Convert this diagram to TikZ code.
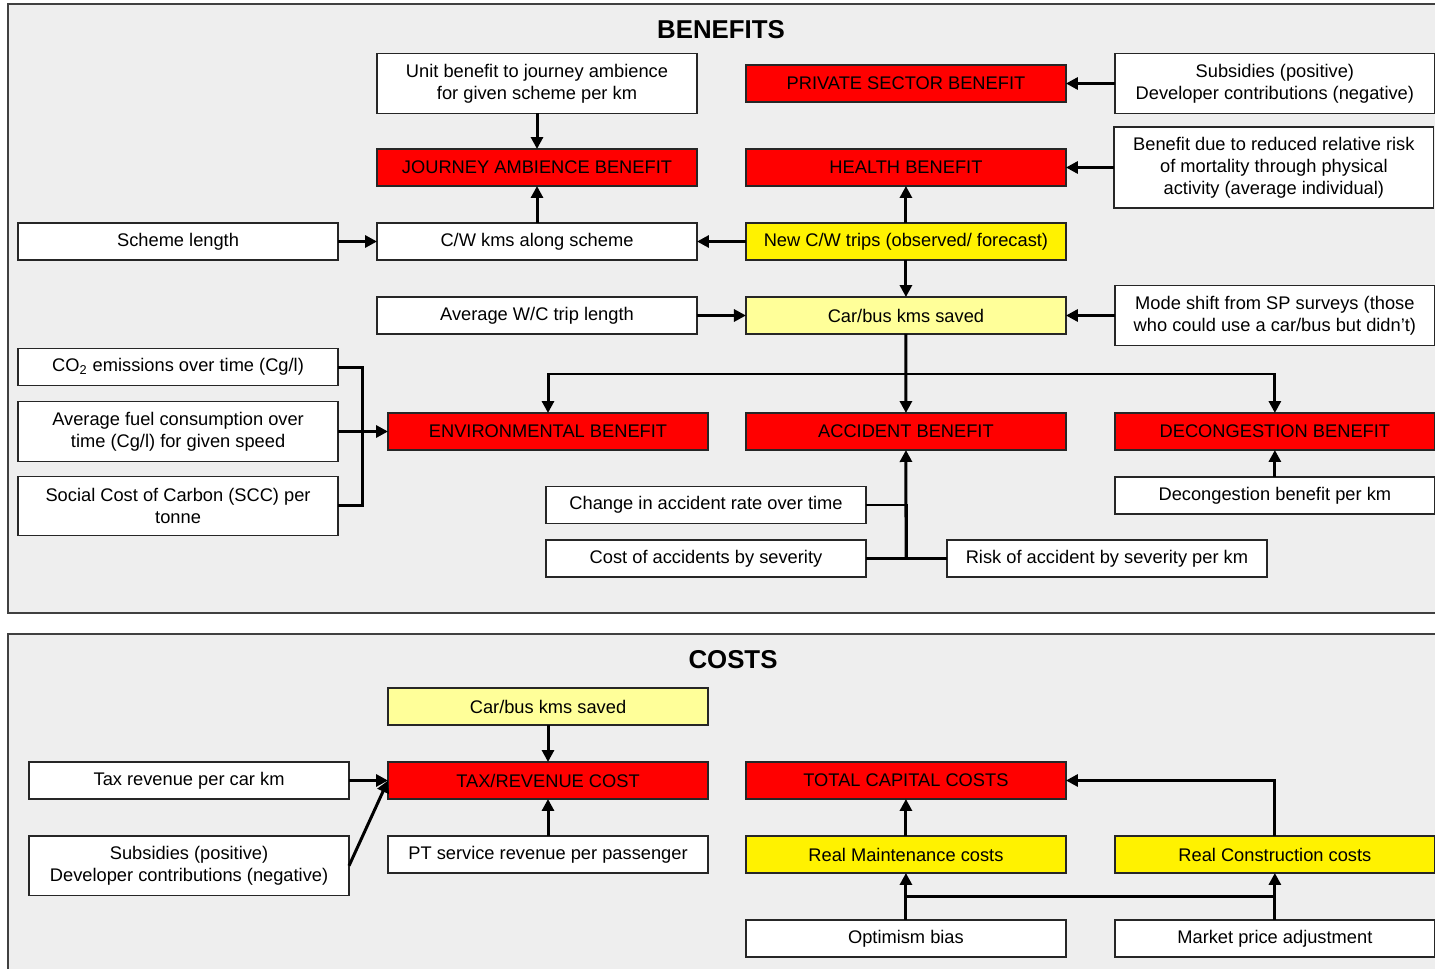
\documentclass[tikz,border=0pt]{standalone}
\usepackage{fontspec}
\setmainfont{Liberation Sans}
\usetikzlibrary{arrows.meta, positioning}
\definecolor{panelgray}{RGB}{238,238,238}
\definecolor{framegray}{RGB}{64,64,64}
\definecolor{paleyellow}{RGB}{255,255,153}
\tikzset{
  box/.style={draw=black!85, line width=0.7pt, fill=white, align=center,
    minimum width=6.4cm, minimum height=0.74cm, inner sep=1pt, outer sep=0pt,
    font=\fontsize{10.4}{12.5}\selectfont}, % every input box
  twoline/.style={minimum height=1.19cm}, % boxes with two lines of text
  threeline/.style={minimum height=1.62cm},
  redbox/.style={box, fill=red}, % the benefit / cost results
  yellowbox/.style={box, fill=yellow},
  paleybox/.style={box, fill=paleyellow},
  link/.style={line width=1.7pt}, % plain joining line
  arr/.style={link, -{Triangle[length=0.24cm, width=0.24cm]}}, % arrow
  panel/.style={draw=framegray, line width=1.1pt, fill=panelgray},
  heading/.style={font=\fontsize{14.7}{16}\selectfont\bfseries},
}

\begin{document}
\begin{tikzpicture}[x=0.02cm, y=-0.02cm, node distance=0.98cm]
    \useasboundingbox (0,0) rectangle (1435,969);
    \draw[panel] (8,4) rectangle (1450,613);
    \draw[panel] (8,634) rectangle (1450,990);

    % benefits
    \node[heading] (benefits) at (721,30) {BENEFITS};

    \node[box, twoline] (unit) at (537,83.5) {Unit benefit to journey ambience\\for given scheme per km};
    \node[redbox, right=of unit] (private) {PRIVATE SECTOR BENEFIT};
    \node[box, twoline, right=of private] (subsA) {Subsidies (positive)\\Developer contributions (negative)};

    \node[redbox] (journey) at (537,167.5) {JOURNEY AMBIENCE BENEFIT};
    \node[redbox, right=of journey] (health) {HEALTH BENEFIT};
    \node[box, threeline, right=0.96cm of health] (mortality) {Benefit due to reduced relative risk\\of mortality through physical\\activity (average individual)};

    \node[box] (cwkms) at (537,241.5) {C/W kms along scheme};
    \node[box, left=0.78cm of cwkms] (scheme) {Scheme length};
    \node[yellowbox, right=of cwkms] (newtrips) {New C/W trips (observed/ forecast)};

    \node[box] (avgwc) at (537,315.5) {Average W/C trip length};
    \node[paleybox, right=of avgwc] (carbus) {Car/bus kms saved};
    \node[box, twoline, right=of carbus] (modeshift) {Mode shift from SP surveys (those\\who could use a car/bus but didn't)};

    \node[redbox] (env) at (548,431.5) {ENVIRONMENTAL BENEFIT};
    \node[redbox, right=0.76cm of env] (accident) {ACCIDENT BENEFIT};
    \node[redbox, right=of accident] (decong) {DECONGESTION BENEFIT};
    \node[box, twoline, left=1.0cm of env] (fuel) {Average fuel consumption over\\time (Cg/l) for given speed};
    \node[box, above=0.32cm of fuel] (cotwo) {CO\textsubscript{2} emissions over time (Cg/l)};
    \node[box, twoline, below=0.3cm of fuel] (carbon) {Social Cost of Carbon (SCC) per\\tonne};
    \node[box, below=0.54cm of decong] (decperkm) {Decongestion benefit per km};

    \node[box] (accrate) at (706,505) {Change in accident rate over time};
    \node[box] (acccost) at (706,558.5) {Cost of accidents by severity};
    \node[box, right=1.62cm of acccost] (accrisk) {Risk of accident by severity per km};

    \coordinate (saved) at (906,374);
    \coordinate (envjoin) at (362,432);
    \coordinate (accjoin) at (906,558.5);

    \draw[arr] (unit) -- (journey);
    \draw[arr] (subsA) -- (private);
    \draw[arr] (mortality) -- (health);
    \draw[arr] (cwkms) -- (journey);
    \draw[arr] (newtrips) -- (health);
    \draw[arr] (newtrips) -- (cwkms);
    \draw[arr] (scheme) -- (cwkms);
    \draw[arr] (newtrips) -- (carbus);
    \draw[arr] (avgwc) -- (carbus);
    \draw[arr] (modeshift) -- (carbus);
    \draw[arr] (carbus) -- (accident);
    \draw[arr] (saved) -| (env);
    \draw[arr] (saved) -| (decong);
    \draw[arr] (fuel) -- (env);
    \draw[link] (cotwo) -| (envjoin);
    \draw[link] (carbon) -| (envjoin);
    \draw[arr] (decperkm) -- (decong);
    \draw[arr] (accjoin) -- (accident);
    \draw[link] (accrate) -| (accjoin);
    \draw[link] (acccost) -- (accrisk);

    % costs
    \node[heading] (costs) at (733,660) {COSTS};

    \node[paleybox] (carbusB) at (548,706.5) {Car/bus kms saved};
    \node[redbox, below=0.74cm of carbusB] (taxcost) {TAX/REVENUE COST};
    \node[box, below=0.74cm of taxcost] (ptrev) {PT service revenue per passenger};
    \node[box, left=0.78cm of taxcost] (taxkm) {Tax revenue per car km};
    \node[box, twoline, below=0.74cm of taxkm] (subsB) {Subsidies (positive)\\Developer contributions (negative)};
    \node[redbox, right=0.76cm of taxcost] (capital) {TOTAL CAPITAL COSTS};
    \node[yellowbox, below=0.74cm of capital] (maint) {Real Maintenance costs};
    \node[yellowbox, right=of maint] (constr) {Real Construction costs};
    \node[box, below=0.94cm of maint] (optimism) {Optimism bias};
    \node[box, right=of optimism] (market) {Market price adjustment};

    \draw[arr] (carbusB) -- (taxcost);
    \draw[arr] (taxkm) -- (taxcost);
    \draw[arr] (ptrev) -- (taxcost);
    \draw[arr] (subsB.east) -- (taxcost.west);
    \draw[arr] (maint) -- (capital);
    \draw[arr] (constr) |- (capital);
    \draw[arr] (optimism) -- coordinate[midway] (biasjoin) (maint);
    \draw[arr] (market) -- coordinate[midway] (pricejoin) (constr);
    \draw[link] (biasjoin) -- (pricejoin);
\end{tikzpicture}
\end{document}
